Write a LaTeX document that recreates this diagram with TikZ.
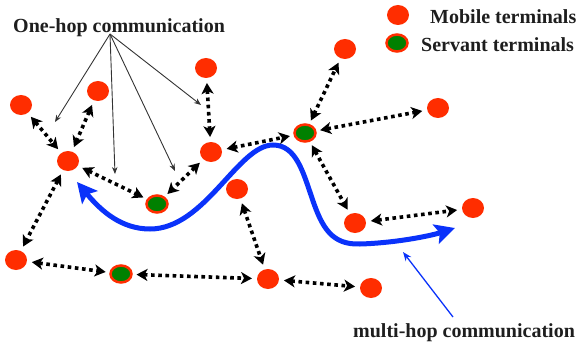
\documentclass[tikz,border=0pt]{standalone}
\usepackage{fontspec}
\setmainfont{Liberation Serif}
\usetikzlibrary{arrows.meta,shapes.geometric}
\definecolor{termred}{RGB}{255,45,0}
\definecolor{srvgreen}{RGB}{0,128,0}
\definecolor{hopblue}{RGB}{10,50,250}
\definecolor{txt}{RGB}{30,30,30}
\tikzset{
  mob/.style={ellipse, fill=termred, minimum width=22pt, minimum height=20pt, inner sep=0pt, outer sep=5pt},
  srv/.style={ellipse, fill=srvgreen, draw=termred, line width=2.5pt, minimum width=21pt, minimum height=17pt, inner sep=0pt, outer sep=5pt},
  link/.style={black, line width=3.6pt, dash pattern=on 3.6pt off 3.6pt,
    {Stealth[length=11pt,width=12pt,inset=3pt]}-{Stealth[length=11pt,width=12pt,inset=3pt]}},
  onehop/.style={black!80, line width=0.9pt, -{Stealth[length=7pt,width=5.5pt]}},
  lbl/.style={font=\fontsize{20}{24}\selectfont\bfseries, text=txt, inner sep=0pt},
  multi/.style={hopblue, line width=5pt, {Stealth[length=20pt,width=20pt,inset=4pt]}-{Stealth[length=20pt,width=20pt,inset=4pt]}},
}
\begin{document}
\begin{tikzpicture}[x=1pt,y=-1pt]
\useasboundingbox (0,0) rectangle (576,345);
% blue multi-hop curve
\coordinate (m0) at (77,182);
\coordinate (m1) at (150,229);
\coordinate (m2) at (273,145);
\coordinate (m3) at (312,198);
\coordinate (m4) at (360,244);
\coordinate (m5) at (455,228);
\draw[multi] (m0) .. controls (102,212) and (122,229) .. (m1)
  .. controls (205,229) and (238,145) .. (m2)
  .. controls (296,145) and (303,172) .. (m3)
  .. controls (322,228) and (332,245) .. (m4)
  .. controls (395,243) and (430,236) .. (m5);
% mobile terminals
\node[mob] (A) at (21,105) {};
\node[mob] (B) at (98,91) {};
\node[mob] (C) at (206,68) {};
\node[mob] (D) at (68,161) {};
\node[mob] (E) at (211,152) {};
\node[mob] (F) at (345,49) {};
\node[mob] (G) at (438,108) {};
\node[mob] (H) at (237,189) {};
\node[mob] (I) at (355,223) {};
\node[mob] (J) at (473,208) {};
\node[mob] (K) at (16,260) {};
\node[mob] (L) at (268,279) {};
\node[mob] (M) at (371,288) {};
% servant terminals
\node[srv] (S1) at (157,204) {};
\node[srv] (S2) at (305,133) {};
\node[srv] (S3) at (121,274) {};
% links
\draw[link] (A) -- (D);
\draw[link] (B) -- (D);
\draw[link] (C) -- (E);
\draw[link] (D) -- (S1);
\draw[link] (E) -- (S1);
\draw[link] (E) -- (S2);
\draw[link] (S2) -- (F);
\draw[link] (S2) -- (G);
\draw[link] (S2) -- (I);
\draw[link] (I) -- (J);
\draw[link] (D) -- (K);
\draw[link] (K) -- (S3);
\draw[link] (S3) -- (L);
\draw[link] (H) -- (L);
\draw[link] (L) -- (M);
% one-hop label and arrows
\node[lbl, anchor=base west] (oh) at (13,33) {One-hop communication};
\coordinate (ohs) at (110,34);
\coordinate (oh1) at (55,122);
\coordinate (oh2) at (115,174);
\coordinate (oh3) at (175,171);
\coordinate (oh4) at (201,105);
\draw[onehop] (ohs) -- (oh1);
\draw[onehop] (ohs) -- (oh2);
\draw[onehop] (ohs) -- (oh3);
\draw[onehop] (ohs) -- (oh4);
% legend
\node[mob, outer sep=0pt] (lm) at (398,15) {};
\node[srv, outer sep=0pt] (ls) at (397,43) {};
\node[lbl, anchor=base west] (lmt) at (430,24) {Mobile terminals};
\node[lbl, anchor=base west] (lst) at (421,52) {Servant terminals};
% multi-hop label
\node[lbl, anchor=base west] (mh) at (353,337) {multi-hop communication};
\coordinate (mhs) at (453,317);
\coordinate (mht) at (403,252);
\draw[hopblue, line width=1.3pt, -{Stealth[length=9pt,width=7pt]}] (mhs) -- (mht);
\end{tikzpicture}
\end{document}
